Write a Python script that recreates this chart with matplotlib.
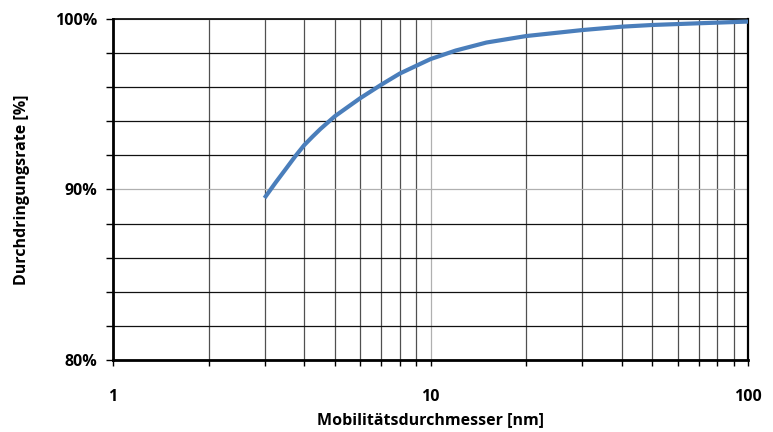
import matplotlib.pyplot as plt
from matplotlib.ticker import FixedLocator, FuncFormatter, NullFormatter

plt.rcParams['font.family'] = ['Open Sans', 'DejaVu Sans']
plt.rcParams['font.weight'] = 'bold'

# Mobilitätsdurchmesser [nm] und Durchdringungsrate [%]
diameter = [3, 3.25, 3.5, 3.75, 4, 4.25, 4.5, 5, 5.5, 6, 7, 8, 9, 10, 12, 15, 20, 30, 40, 50, 70, 100]
rate = [89.5, 90.4, 91.2, 91.95, 92.6, 93.1, 93.55, 94.3, 94.85, 95.35, 96.15, 96.8, 97.25, 97.65,
        98.15, 98.62, 99.0, 99.35, 99.55, 99.65, 99.75, 99.85]

x_major = [1, 10, 100]
x_minor = [2, 3, 4, 5, 6, 7, 8, 9, 20, 30, 40, 50, 60, 70, 80, 90]
y_major = [80, 90, 100]
y_minor = [82, 84, 86, 88, 92, 94, 96, 98]

fig = plt.figure(figsize=(7.73, 4.32), dpi=100)
ax = fig.add_axes([0.1462, 0.1667, 0.8215, 0.7893])

ax.plot(diameter, rate, color='#4a7ebb', lw=3, solid_capstyle='butt',
        solid_joinstyle='round', zorder=3)

ax.set_xscale('log')
ax.set_xlim(1, 100)
ax.set_ylim(80, 100)

ax.xaxis.set_major_locator(FixedLocator(x_major))
ax.xaxis.set_minor_locator(FixedLocator(x_minor))
ax.xaxis.set_major_formatter(FuncFormatter(lambda v, p: f"{v:g}"))
ax.xaxis.set_minor_formatter(NullFormatter())
ax.yaxis.set_major_locator(FixedLocator(y_major))
ax.yaxis.set_minor_locator(FixedLocator(y_minor))
ax.yaxis.set_major_formatter(FuncFormatter(lambda v, p: f"{v:.0f}%"))

ax.grid(which='major', color='#b0b0b0', lw=0.9)
ax.grid(which='minor', axis='x', color='#505050', lw=0.9)
ax.grid(which='minor', axis='y', color='#111111', lw=0.9)

ax.tick_params(which='both', direction='out', color='black', labelsize=11.5)
ax.tick_params(axis='x', which='both', length=4, width=1, pad=17)
ax.tick_params(axis='y', which='both', length=5, width=1, pad=6)

for side in ['left', 'bottom']:
    ax.spines[side].set_linewidth(2)
ax.spines['right'].set_linewidth(1.6)
ax.spines['top'].set_linewidth(1.2)

ax.set_xlabel("Mobilitätsdurchmesser [nm]", fontsize=11.5, fontweight='bold', labelpad=5)
ax.set_ylabel("Durchdringungsrate [%]", fontsize=11.5, fontweight='bold', labelpad=18)

fig.savefig("out.png", dpi=100)
